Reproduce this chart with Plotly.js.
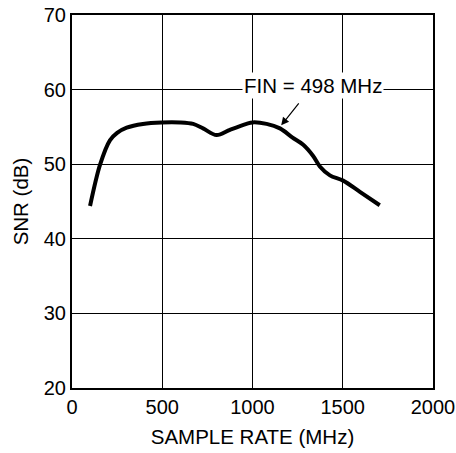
<!DOCTYPE html>
<html>
<head>
<meta charset="utf-8">
<script src="https://cdn.plot.ly/plotly-3.0.1.min.js"></script>
<style>html,body{margin:0;padding:0;background:#fff;}#chart{width:456px;height:453px;}</style>
</head>
<body>
<div id="chart"></div>
<script>
const sampleRate = [100, 155, 210, 250, 303, 393, 497, 600, 671, 726, 801, 875, 967, 1000, 1078, 1152, 1220, 1281, 1336, 1373, 1429, 1502, 1595, 1705];
const snr = [44.4, 49.9, 53.2, 54.2, 54.9, 55.4, 55.6, 55.6, 55.4, 54.8, 53.9, 54.6, 55.4, 55.6, 55.4, 54.8, 53.6, 52.6, 51.1, 49.7, 48.5, 47.8, 46.3, 44.5];
const xTicks = [0, 500, 1000, 1500, 2000];
const yTicks = [20, 30, 40, 50, 60, 70];
const labelText = 'FIN = 498 MHz';
const labelPos = [1334, 60.6];
const arrowTip = [1152, 55.0];

const tickFont = {family: 'Liberation Sans, Arial, sans-serif', size: 20, color: '#000'};
const titleFont = {family: 'Liberation Sans, Arial, sans-serif', size: 20.5, color: '#000'};

const trace = {
  x: sampleRate, y: snr, type: 'scatter', mode: 'lines',
  line: {color: '#000', width: 4, shape: 'spline', smoothing: 0.9},
  hoverinfo: 'skip'
};

const layout = {
  width: 456, height: 453,
  margin: {l: 72, r: 23, t: 15, b: 65},
  paper_bgcolor: '#fff', plot_bgcolor: '#fff',
  font: tickFont,
  showlegend: false,
  xaxis: {
    range: [0, 2000], tickvals: xTicks, ticktext: xTicks.map(String),
    showgrid: true, gridcolor: '#000', gridwidth: 1.2,
    showline: true, linecolor: '#000', linewidth: 2, mirror: true,
    zeroline: false, ticks: '', tickfont: tickFont,
    title: {text: 'SAMPLE RATE (MHz)', font: titleFont, standoff: 13}
  },
  yaxis: {
    range: [20, 70], tickvals: yTicks, ticktext: yTicks.map(String),
    showgrid: true, gridcolor: '#000', gridwidth: 1.2,
    showline: true, linecolor: '#000', linewidth: 2, mirror: true,
    zeroline: false, ticks: '', tickfont: tickFont,
    title: {text: 'SNR (dB)', font: titleFont, standoff: 10}
  },
  annotations: [
    {x: labelPos[0], y: labelPos[1], xref: 'x', yref: 'y', text: labelText,
     showarrow: false, bgcolor: '#fff', font: titleFont, borderpad: 1},
    {x: arrowTip[0], y: arrowTip[1], xref: 'x', yref: 'y', text: '',
     showarrow: true, ax: 20, ay: -25, arrowhead: 2, arrowsize: 1.3, arrowwidth: 1.2, arrowcolor: '#000', standoff: 2}
  ]
};

Plotly.newPlot('chart', [trace], layout, {displayModeBar: false, staticPlot: true});
</script>
</body>
</html>
